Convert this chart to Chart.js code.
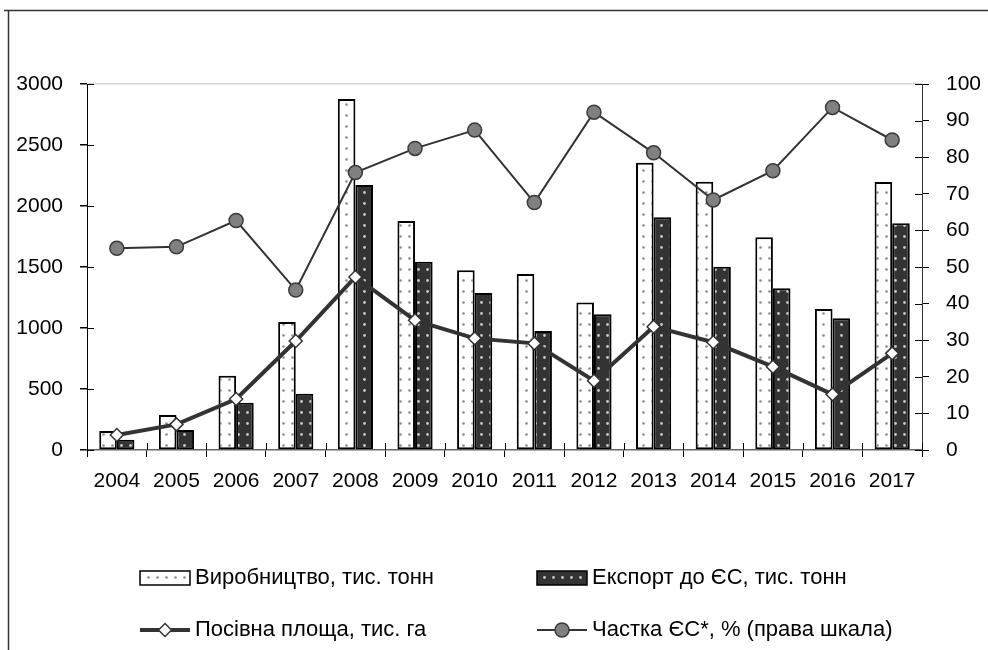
<!DOCTYPE html>
<html><head><meta charset="utf-8">
<script src="https://cdn.jsdelivr.net/npm/chart.js@4.4.1/dist/chart.umd.min.js"></script>
<style>html,body{margin:0;padding:0;background:#fff}#wrap{position:relative;width:988px;height:650px}canvas{display:block}</style>
</head><body><div id="wrap"><canvas id="c" width="988" height="650"></canvas></div>
<script>
// ---- data ----
const years = ['2004','2005','2006','2007','2008','2009','2010','2011','2012','2013','2014','2015','2016','2017'];
const production = [155, 287, 609, 1049, 2877, 1877, 1473, 1443, 1210, 2355, 2199, 1743, 1156, 2197];
const exportEU = [85, 164, 388, 462, 2172, 1544, 1287, 975, 1112, 1907, 1503, 1325, 1079, 1858];
const sownArea = [123, 210, 418, 893, 1418, 1063, 915, 874, 568, 1011, 883, 683, 456, 792];
const euShare = [55.1, 55.5, 62.7, 43.7, 75.8, 82.4, 87.4, 67.6, 92.3, 81.2, 68.3, 76.3, 93.6, 84.7];
const leftTicks = [0, 500, 1000, 1500, 2000, 2500, 3000];
const rightTicks = [0, 10, 20, 30, 40, 50, 60, 70, 80, 90, 100];
const seriesNames = ['Виробництво, тис. тонн', 'Експорт до ЄС, тис. тонн', 'Посівна площа, тис. га', 'Частка ЄС*, % (права шкала)'];

// ---- styles ----
const FONT_FAMILY = "'Liberation Sans Narrow','Arial Narrow','Liberation Sans',Arial,sans-serif";
const canvas = document.getElementById('c');
const ctx = canvas.getContext('2d');
function makePattern(bg, dot, w, h, r) {
  const c = document.createElement('canvas'); c.width = w; c.height = h;
  const g = c.getContext('2d');
  g.fillStyle = bg; g.fillRect(0, 0, w, h);
  g.fillStyle = dot; g.beginPath(); g.arc(w / 2, h / 2, r, 0, Math.PI * 2); g.fill();
  return ctx.createPattern(c, 'repeat');
}
const prodPattern = makePattern('#ffffff', '#8a8a8a', 9, 11, 1.3);
const expPattern = makePattern('#333333', '#c8c8c8', 9, 11, 1.4);

const frame = {
  id: 'frame',
  afterDraw(chart) {
    const g = chart.ctx; g.save();
    g.strokeStyle = '#333'; g.lineWidth = 1.5;
    g.beginPath(); g.moveTo(4, 10.5); g.lineTo(988, 10.5); g.stroke();
    g.beginPath(); g.moveTo(8.5, 10); g.lineTo(8.5, 650); g.stroke();
    // inner halves of tick marks (cross style)
    g.strokeStyle = '#000'; g.lineWidth = 1;
    const ys = chart.scales.y, yr = chart.scales.y1, xs = chart.scales.x;
    ys.ticks.forEach((t, i) => { const p = Math.round(ys.getPixelForTick(i)) + 0.5; g.beginPath(); g.moveTo(ys.right, p); g.lineTo(ys.right + 7, p); g.stroke(); });
    yr.ticks.forEach((t, i) => { const p = Math.round(yr.getPixelForTick(i)) + 0.5; g.beginPath(); g.moveTo(yr.left - 7, p); g.lineTo(yr.left, p); g.stroke(); });
    const half = (xs.getPixelForTick(1) - xs.getPixelForTick(0)) / 2;
    for (let i = 0; i <= xs.ticks.length; i++) {
      const p = Math.round(xs.getPixelForTick(0) - half + i * half * 2) + 0.5;
      g.beginPath(); g.moveTo(p, xs.top - 7); g.lineTo(p, xs.top); g.stroke();
    }
    g.restore();
  }
};

const legendPlugin = {
  id: 'customLegend',
  afterDraw(chart) {
    const g = chart.ctx; g.save();
    const ds = chart.data.datasets;
    g.font = '22px ' + FONT_FAMILY; g.fillStyle = '#000'; g.textBaseline = 'middle'; g.textAlign = 'left';
    const cols = [140, 537], rows = [578, 630];
    const items = [
      { d: ds[0], x: cols[0], y: rows[0], kind: 'box' },
      { d: ds[1], x: cols[1], y: rows[0], kind: 'box' },
      { d: ds[2], x: cols[0], y: rows[1], kind: 'line' },
      { d: ds[3], x: cols[1], y: rows[1], kind: 'line' }
    ];
    items.forEach(it => {
      const d = it.d;
      if (it.kind === 'box') {
        g.fillStyle = d.backgroundColor; g.fillRect(it.x, it.y - 7, 50, 14);
        g.strokeStyle = '#000'; g.lineWidth = 1.5; g.strokeRect(it.x, it.y - 7, 50, 14);
      } else {
        g.strokeStyle = d.borderColor; g.lineWidth = d.borderWidth;
        g.beginPath(); g.moveTo(it.x, it.y); g.lineTo(it.x + 50, it.y); g.stroke();
        g.fillStyle = d.pointBackgroundColor; g.strokeStyle = d.pointBorderColor; g.lineWidth = d.pointBorderWidth;
        Chart.helpers.drawPoint(g, { pointStyle: d.pointStyle, radius: d.pointRadius, borderWidth: d.pointBorderWidth }, it.x + 25, it.y);
      }
      g.fillStyle = '#000';
      g.fillText(d.label, it.x + 55, it.y);
    });
    g.restore();
  }
};

const tickFont = { family: FONT_FAMILY, size: 21 };
const plain = v => String(v);

new Chart(ctx, {
  data: {
    labels: years,
    datasets: [
      { type: 'bar', label: seriesNames[0], data: production, yAxisID: 'y', backgroundColor: prodPattern, borderColor: '#000', borderWidth: 2, borderSkipped: false, order: 2, categoryPercentage: 0.59, barPercentage: 1.0 },
      { type: 'bar', label: seriesNames[1], data: exportEU, yAxisID: 'y', backgroundColor: expPattern, borderColor: '#000', borderWidth: 2, borderSkipped: false, order: 3, categoryPercentage: 0.59, barPercentage: 1.0 },
      { type: 'line', label: seriesNames[2], data: sownArea, yAxisID: 'y', borderColor: '#333', borderWidth: 4, tension: 0, pointStyle: 'rectRot', pointRadius: 6.5, pointBackgroundColor: '#fff', pointBorderColor: '#333', pointBorderWidth: 1.5, order: 1 },
      { type: 'line', label: seriesNames[3], data: euShare, yAxisID: 'y1', borderColor: '#333', borderWidth: 2, tension: 0, pointStyle: 'circle', pointRadius: 7, pointBackgroundColor: '#808080', pointBorderColor: '#3a3a3a', pointBorderWidth: 1.5, order: 0 }
    ]
  },
  options: {
    responsive: false, animation: false, devicePixelRatio: 1,
    layout: { padding: { top: 84, bottom: 150, left: 0, right: 0 } },
    plugins: { legend: { display: false }, tooltip: { enabled: false }, title: { display: false } },
    scales: {
      x: {
        type: 'category', offset: true,
        grid: { offset: true, drawOnChartArea: false, drawTicks: true, tickLength: 7, color: '#000', lineWidth: 1 },
        border: { display: true, color: '#666', width: 1.5 },
        ticks: { font: tickFont, color: '#000', padding: 12, maxRotation: 0, autoSkip: false },
        afterFit(s) { s.height = 50; s.paddingLeft = 0; s.paddingRight = 0; }
      },
      y: {
        position: 'left', min: 0, max: 3000,
        afterBuildTicks(s) { s.ticks = leftTicks.map(v => ({ value: v })); },
        grid: { drawOnChartArea: true, color: c => (c.tick && c.tick.value === 3000 ? '#d4d4d4' : 'rgba(0,0,0,0)'), tickColor: '#000', tickLength: 7, lineWidth: 1.5 },
        border: { display: true, color: '#000', width: 1 },
        ticks: { font: tickFont, color: '#000', padding: 17, callback: plain },
        afterFit(s) { s.width = 87; s.paddingTop = 0; s.paddingBottom = 0; }
      },
      y1: {
        position: 'right', min: 0, max: 100,
        afterBuildTicks(s) { s.ticks = rightTicks.map(v => ({ value: v })); },
        grid: { drawOnChartArea: false, tickColor: '#000', tickLength: 7, lineWidth: 1 },
        border: { display: true, color: '#333', width: 1 },
        ticks: { font: tickFont, color: '#000', padding: 17, callback: plain },
        afterFit(s) { s.width = 66; s.paddingTop = 0; s.paddingBottom = 0; }
      }
    }
  },
  plugins: [frame, legendPlugin]
});
</script>
</body></html>
